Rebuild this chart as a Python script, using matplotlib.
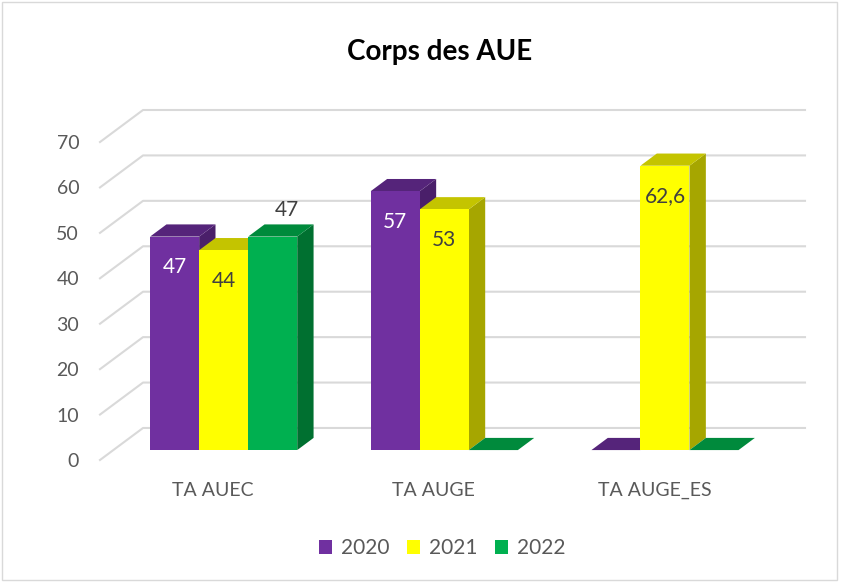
import matplotlib.pyplot as plt
from matplotlib.patches import Polygon, Patch, Rectangle

categories = ['TA AUEC', 'TA AUGE', 'TA AUGE_ES']
years = ['2020', '2021', '2022']
values_2020 = [47, 57, 0]
values_2021 = [44, 53, 62.6]
values_2022 = [47, 0, 0]
labels_2020 = ['47', '57', '']
labels_2021 = ['44', '53', '62,6']
labels_2022 = ['47', '', '']
yticks = [0, 10, 20, 30, 40, 50, 60, 70]

series = [values_2020, values_2021, values_2022]
series_labels = [labels_2020, labels_2021, labels_2022]
front_col = ['#7030A0', '#FFFF00', '#00B050']
top_col = ['#55247A', '#C4C400', '#008A3C']
side_col = ['#4A1F6A', '#A6A600', '#007030']
label_col = ['white', '#404040', '#404040']
label_off = [(0, -22), (0, -22), (10, 19)]

plt.rcParams['font.family'] = ['Lato', 'DejaVu Sans']

# depth offset of the 3d box, in data units
DX, DY = 0.195, 7.05
D1, D2 = 0.31, 0.69
w = 1 / 4.5
gap = (1 - 3 * w) / 2


def pt(x, v, d):
    return (x + DX * d, v + DY * d)


fig = plt.figure(figsize=(8.44, 5.82), dpi=100)
ax = fig.add_axes([100 / 844, (582 - 460) / 582, 705 / 844, 350 / 582])
ax.set_xlim(0, 3 + DX)
ax.set_ylim(0, 70 + DY)
for s in ax.spines.values():
    s.set_visible(False)
ax.set_xticks([])
ax.set_yticks(yticks)
ax.tick_params(axis='y', length=0, pad=15, labelsize=14, labelcolor='#595959')

# gridlines: slanted on the left wall, flat on the back wall
for v in yticks:
    xs = [pt(0, v, 0)[0], pt(0, v, 1)[0], pt(3, v, 1)[0]]
    ys = [pt(0, v, 0)[1], pt(0, v, 1)[1], pt(3, v, 1)[1]]
    ax.plot(xs, ys, color='#D9D9D9', lw=1.5, zorder=1, clip_on=False)

for j in range(len(categories)):
    for i in range(3):
        v = series[i][j]
        x0 = j + gap + i * w
        x1 = x0 + w
        front = [pt(x0, 0, D1), pt(x1, 0, D1), pt(x1, v, D1), pt(x0, v, D1)]
        top = [pt(x0, v, D1), pt(x1, v, D1), pt(x1, v, D2), pt(x0, v, D2)]
        side = [pt(x1, 0, D1), pt(x1, 0, D2), pt(x1, v, D2), pt(x1, v, D1)]
        ax.add_patch(Polygon(side, closed=True, fc=side_col[i], ec='none', zorder=3))
        ax.add_patch(Polygon(top, closed=True, fc=top_col[i], ec='none', zorder=3))
        ax.add_patch(Polygon(front, closed=True, fc=front_col[i], ec='none', zorder=3))
        if series_labels[i][j]:
            ax.annotate(series_labels[i][j], xy=pt(x0 + w / 2, v, D1), xytext=label_off[i],
                        textcoords='offset points', ha='center', va='center',
                        fontsize=15, color=label_col[i], zorder=5, annotation_clip=False)
    ax.annotate(categories[j], xy=(j + 0.5, 0), xytext=(2, -22),
                textcoords='offset points', ha='center', va='center',
                fontsize=14, color='#595959', annotation_clip=False)

fig.text(440 / 844, 1 - 52 / 582, 'Corps des AUE', ha='center', va='center',
         fontsize=20, fontweight='bold', color='black')

handles = [Patch(facecolor=front_col[i], edgecolor='none', label=years[i]) for i in range(3)]
fig.legend(handles=handles, loc='center', bbox_to_anchor=(442 / 844, 1 - 548 / 582),
           ncol=3, frameon=False, fontsize=15, handlelength=0.65, handleheight=0.65,
           handletextpad=0.4, columnspacing=0.85, labelcolor='#595959')

fig.patches.append(Rectangle((0.002, 0.004), 0.99, 0.992, transform=fig.transFigure,
                             fill=False, ec='#D9D9D9', lw=1))

fig.savefig('out.png', dpi=100)
